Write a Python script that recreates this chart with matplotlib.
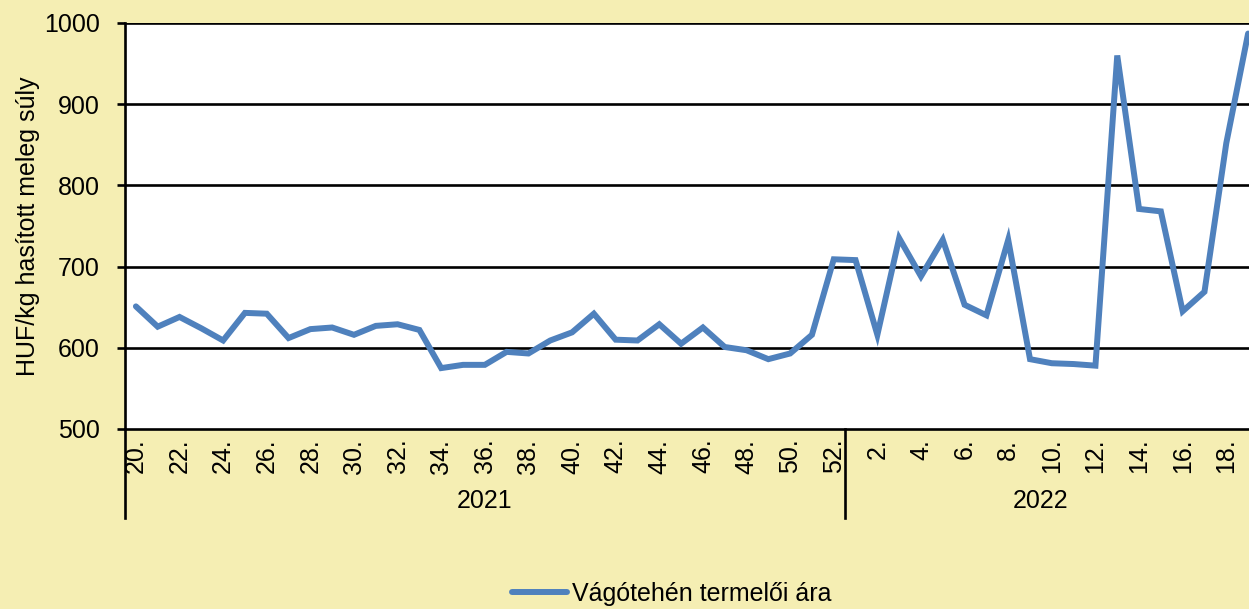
import numpy as np
import matplotlib
matplotlib.use("Agg")
import matplotlib.pyplot as plt
import matplotlib.transforms as mtransforms

plt.rcParams['font.family'] = ['Liberation Sans', 'DejaVu Sans']

# weekly producer price of slaughter cows, HUF/kg
weeks_2021 = list(range(20, 53))
weeks_2022 = list(range(1, 20))
prices_2021 = [651, 626, 638, 624, 609, 643, 642, 612, 623, 625, 616, 627, 629, 622,
               575, 579, 579, 595, 593, 609, 619, 642, 610, 609, 629, 605, 625, 601,
               597, 586, 593, 616, 709]
prices_2022 = [708, 616, 735, 688, 733, 653, 640, 733, 586, 581, 580, 578, 960,
               771, 768, 645, 669, 852, 987]
years = ["2021", "2022"]
series_name = "Vágótehén termelői ára"
y_label = "HUF/kg hasított meleg súly"

BG = "#F5EEB3"
LINE = "#4F81BD"
FS = 18
LW = 1.9

weeks = weeks_2021 + weeks_2022
values = prices_2021 + prices_2022
x = np.arange(len(values))

fig = plt.figure(figsize=(12.49, 6.09), dpi=100, facecolor=BG)
ax = fig.add_axes([125 / 1249, 1 - 429 / 609, 1134 / 1249, 406 / 609])
ax.set_facecolor("white")

ax.plot(x, values, color=LINE, linewidth=4.3, solid_joinstyle="miter",
        solid_capstyle="round", zorder=3, label=series_name)

ax.set_ylim(500, 1000)
ax.set_xlim(-0.5, len(values) - 0.5)
ax.set_yticks(np.arange(500, 1001, 100))
for yv in range(600, 1001, 100):
    ax.axhline(yv, color="black", linewidth=LW, zorder=1)

for s in ["top", "right"]:
    ax.spines[s].set_visible(False)
ax.spines["left"].set_linewidth(LW)
ax.spines["bottom"].set_linewidth(LW)

ax.tick_params(axis="y", labelsize=FS, length=6, width=LW, pad=12)
ax.set_ylabel(y_label, fontsize=FS, labelpad=3)

tick_pos = [i for i, w in enumerate(weeks) if w % 2 == 0]
ax.set_xticks(tick_pos)
ax.set_xticklabels([f"{weeks[i]}." for i in tick_pos], rotation=90, fontsize=FS)
ax.tick_params(axis="x", length=0, pad=7)

# year group separators and labels
trans = mtransforms.blended_transform_factory(ax.transData, ax.transAxes)
n21 = len(weeks_2021)
for xs in [-0.5, n21 - 0.5]:
    ax.plot([xs, xs], [0, -0.218], transform=trans, color="black", linewidth=LW,
            clip_on=False)
ax.text((n21 - 1) / 2, -0.178, years[0], transform=trans, ha="center", va="center",
        fontsize=FS)
ax.text(n21 + (len(weeks_2022) - 1) / 2 - 0.5, -0.178, years[1], transform=trans,
        ha="center", va="center", fontsize=FS)

fig.legend(loc="center", bbox_to_anchor=(672 / 1249, 1 - 594 / 609), frameon=False,
           fontsize=FS, handlelength=2.2, handletextpad=0.2)

fig.savefig("out.png", dpi=100, facecolor=BG)
